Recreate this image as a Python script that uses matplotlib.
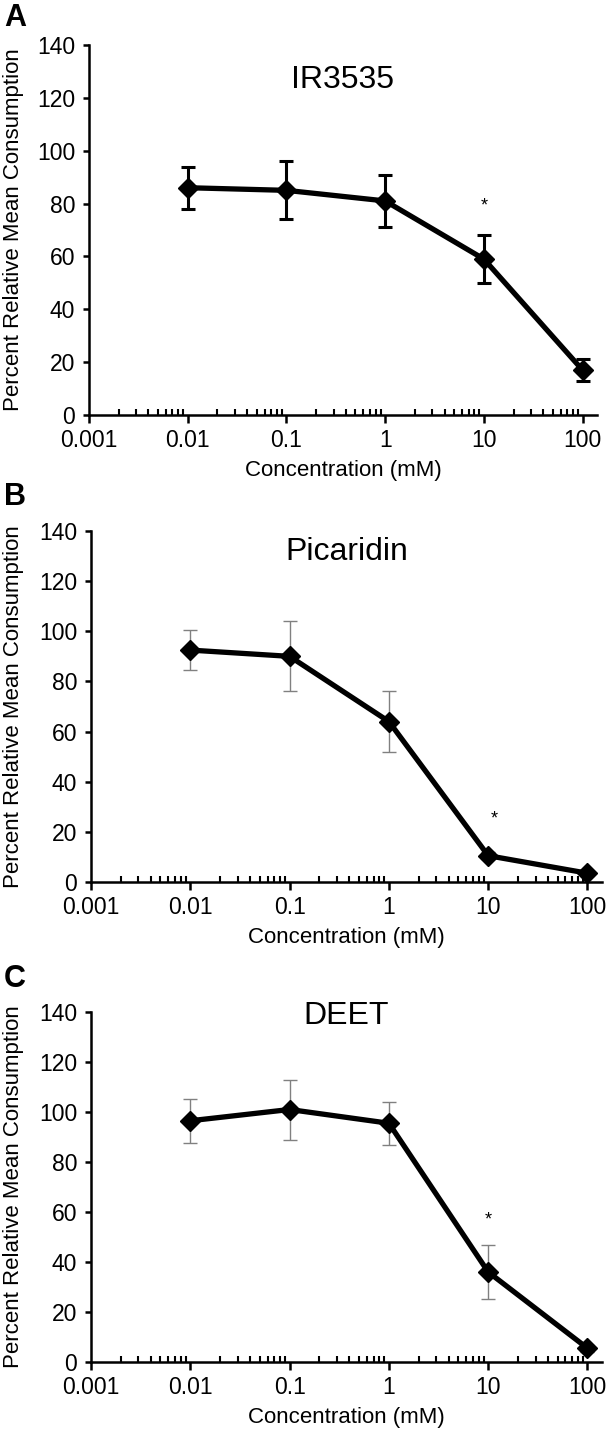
import matplotlib
matplotlib.use("Agg")
import matplotlib.pyplot as plt
from matplotlib.ticker import LogLocator, NullFormatter, FixedLocator, FixedFormatter

plt.rcParams['font.family'] = ['Liberation Sans', 'DejaVu Sans']

conc = [0.01, 0.1, 1, 10, 100]
ir3535_mean = [86, 85, 81, 59, 17]
ir3535_err = [8, 11, 10, 9, 4.3]
picaridin_mean = [92.5, 90, 64, 10.5, 3.5]
picaridin_err = [8, 14, 12, 1.5, 1]
deet_mean = [96.5, 101, 95.5, 36, 5.5]
deet_err = [8.7, 12, 8.5, 10.7, 1.5]

titles = ["IR3535", "Picaridin", "DEET"]
letters = ["A", "B", "C"]
star_x = [10, 11.5, 10]
star_y = [79, 25, 57]
xtick_vals = [0.001, 0.01, 0.1, 1, 10, 100]
xtick_labels = ["0.001", "0.01", "0.1", "1", "10", "100"]
ytick_vals = [0, 20, 40, 60, 80, 100, 120, 140]

W, H = 608, 1441
fig = plt.figure(figsize=(W / 100, H / 100), dpi=100)

# axes boxes in pixels: (left, top, right, bottom)
boxes = [(89, 45, 597, 415), (91, 531, 602, 882), (91, 1012, 602, 1362)]
letter_pos = [(4, 26), (4, 505), (4, 987)]
title_y = [0.905, 0.94, 0.99]
means = [ir3535_mean, picaridin_mean, deet_mean]
errs = [ir3535_err, picaridin_err, deet_err]
err_colors = ["black", "#808080", "#808080"]
err_lw = [2.2, 1.0, 1.0]

for i in range(3):
    l, t, r, b = boxes[i]
    ax = fig.add_axes([l / W, 1 - b / H, (r - l) / W, (b - t) / H])
    ax.set_xscale('log')
    ax.set_xlim(0.001, 140)
    ax.set_ylim(0, 140)
    ax.errorbar(conc, means[i], yerr=errs[i], fmt='none', ecolor=err_colors[i],
                elinewidth=err_lw[i], capsize=5, capthick=err_lw[i], zorder=2)
    ax.plot(conc, means[i], color='black', lw=3.8, marker='D', markersize=10,
            zorder=3, clip_on=False)
    ax.text(star_x[i], star_y[i], '*', ha='center', va='center', fontsize=13)
    ax.text(0.5, title_y[i], titles[i], transform=ax.transAxes,
            ha='center', va='center', fontsize=23)
    for s in ['top', 'right']:
        ax.spines[s].set_visible(False)
    for s in ['left', 'bottom']:
        ax.spines[s].set_linewidth(1.8)
    ax.xaxis.set_major_locator(FixedLocator(xtick_vals))
    ax.xaxis.set_major_formatter(FixedFormatter(xtick_labels))
    ax.xaxis.set_minor_locator(LogLocator(base=10, subs=range(2, 10), numticks=20))
    ax.xaxis.set_minor_formatter(NullFormatter())
    ax.tick_params(axis='x', which='major', direction='out', length=6, width=1.8,
                   labelsize=16.5, pad=4)
    ax.tick_params(axis='x', which='minor', direction='in', length=4, width=1.5)
    ax.set_yticks(ytick_vals)
    ax.tick_params(axis='y', direction='out', length=4, width=1.8, labelsize=16.5, pad=6)
    ax.set_xlabel("Concentration (mM)", fontsize=16, labelpad=6)
    ax.set_ylabel("Percent Relative Mean Consumption", fontsize=16)
    ax.yaxis.set_label_coords(-(l - 3) / (r - l), 0.5)
    ax.yaxis.label.set_verticalalignment('top')
    fig.text(letter_pos[i][0] / W, 1 - letter_pos[i][1] / H, letters[i],
             fontsize=22, fontweight='bold', ha='left', va='baseline')

fig.savefig("out.png", dpi=100)
